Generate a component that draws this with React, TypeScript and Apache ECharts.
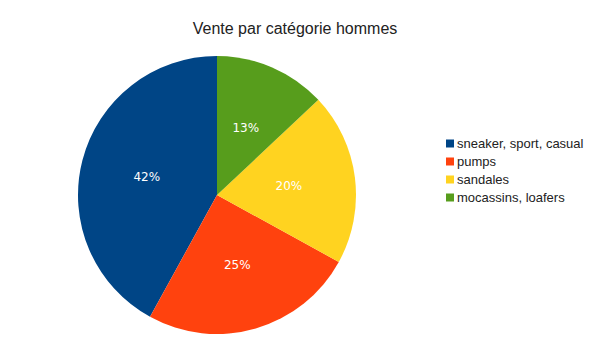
import React, { useEffect, useRef } from "react";
import * as echarts from "echarts";

const categories = ["sneaker, sport, casual", "pumps", "sandales", "mocassins, loafers"];
const values = [42, 25, 20, 13];
const colors = ["#004586", "#ff420e", "#ffd320", "#579d1c"];
const titleText = "Vente par catégorie hommes";

export default function App() {
  const ref = useRef<HTMLDivElement>(null);
  useEffect(() => {
    document.body.style.margin = "0";
    const chart = echarts.init(ref.current!, null, { renderer: "svg" });
    chart.setOption({
      animation: false,
      backgroundColor: "#ffffff",
      title: {
        text: titleText,
        left: 290,
        textAlign: "center",
        top: 15,
        textStyle: { fontFamily: "Liberation Sans", fontSize: 16, fontWeight: "normal", color: "#222" },
      },
      legend: {
        orient: "vertical",
        left: 441,
        top: 132,
        icon: "rect",
        itemWidth: 8,
        itemHeight: 8,
        itemGap: 5,
        data: categories,
        textStyle: { fontFamily: "Liberation Sans", fontSize: 13, color: "#222", padding: [0, 0, 0, -2] },
      },
      series: [
        {
          type: "pie",
          center: [217, 195],
          radius: [0, 139],
          startAngle: 90,
          clockwise: false,
          color: colors,
          label: {
            show: true,
            position: "inside",
            formatter: "{c}%",
            color: "#ffffff",
            fontFamily: "DejaVu Sans",
            fontSize: 12,
          },
          labelLine: { show: false },
          emphasis: { disabled: true },
          data: categories.map((name, i) => ({ name, value: values[i] })),
        },
      ],
    });
    return () => chart.dispose();
  }, []);
  return <div ref={ref} style={{ width: 604, height: 340 }} />;
}
